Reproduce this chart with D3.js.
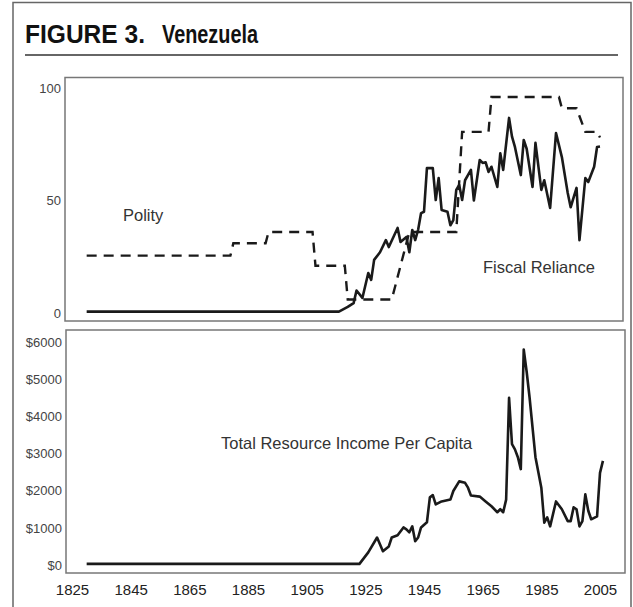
<!DOCTYPE html>
<html>
<head>
<meta charset="utf-8">
<script src="https://cdn.jsdelivr.net/npm/d3@7/dist/d3.min.js"></script>
<style>
  body { margin: 0; background: #fff; }
  text { font-family: "Liberation Sans", Arial, Helvetica, sans-serif; }
</style>
</head>
<body>
<div class="chart"></div>
<script>
// Width and height
var w = 633;
var h = 607;

// Polity (rescaled 0-100), dashed
const polityYears  = [1830, 1879, 1880, 1891, 1892, 1907, 1908, 1918, 1919, 1934, 1940, 1956, 1958, 1967, 1968, 1991, 1992, 1997, 2000, 2004, 2005];
const polityValues = [25.5, 25.5, 31,   31,   36,   36,   21,   21,   6,    6,    36,   36,   80.5, 80.5, 96,   96,   91,   91,   80.5, 80.5, 78];

// Fiscal reliance, solid
const fiscalYears  = [1830, 1916, 1919, 1921, 1922, 1924, 1926, 1927, 1928, 1930, 1932, 1933, 1936, 1937, 1939, 1940,
                      1941, 1942, 1943, 1944, 1945, 1946, 1948, 1949, 1950, 1951, 1953, 1954, 1955, 1956, 1957, 1958,
                      1959, 1961, 1962, 1964, 1965, 1966, 1967, 1968, 1970, 1971, 1972, 1974, 1975, 1976, 1978, 1979,
                      1980, 1982, 1983, 1985, 1986, 1988, 1990, 1992, 1994, 1995, 1997, 1998, 2000, 2001, 2003, 2004, 2005];
const fiscalValues = [0.6,  0.6,  2.7,  4.4,  10,   6.7,  17.8, 14.7, 23.6, 27,   32.4, 29.3, 37.8, 31.6, 33.8, 27,
                      36.9, 32.4, 37,   44.4, 45,   64.4, 64.4, 50.2, 60,   45.8, 45,   39,   41.3, 54.7, 56.9, 50.2,
                      59,   63.6, 50,   68,   66.7, 67,   62.7, 65,   56,   71,   63.6, 86.7, 78.4, 73.8, 61.3, 76.9,
                      73,   56,   75.6, 54.7, 59,   46.7, 80,   69.3, 53.3, 47,   55.6, 32.4, 60,   58.2, 65,   73.8, 74];

// Total resource income per capita (US$)
const incomeYears  = [1830, 1923, 1926, 1929, 1931, 1933, 1934, 1936, 1938, 1939, 1940, 1941, 1942, 1943, 1944, 1946,
                      1947, 1948, 1949, 1951, 1954, 1955, 1957, 1959, 1960, 1961, 1964, 1966, 1968, 1970, 1971, 1972,
                      1973, 1974, 1975, 1976, 1977, 1978, 1979, 1980, 1981, 1983, 1985, 1986, 1987, 1988, 1990, 1992,
                      1994, 1995, 1996, 1997, 1998, 1999, 2000, 2001, 2002, 2004, 2005, 2006];
const incomeValues = [30,   30,   340,  740,  370,  500,  740,  800,  1010, 960,  880,  1040, 640,  740,  1010, 1150,
                      1820, 1880, 1630, 1710, 1760, 1990, 2250, 2210, 2080, 1870, 1840, 1710, 1580, 1420, 1500, 1420,
                      1760, 4500, 3250, 3110, 2900, 2580, 5800, 5200, 4500, 2900, 2080, 1140, 1280, 1040, 1710, 1500,
                      1180, 1180, 1550, 1500, 1040, 1180, 1900, 1460, 1230, 1310, 2480, 2800];

const xTicks = [1825, 1845, 1865, 1885, 1905, 1925, 1945, 1965, 1985, 2005];
const topTicks = [0, 50, 100];
const bottomTicks = [0, 1000, 2000, 3000, 4000, 5000, 6000];

// Create SVG element
var svg = d3.select("body")
  .select(".chart")
  .append("svg")
  .attr("width", w)
  .attr("height", h);

// outer frame and title
svg.append("path")
  .attr("d", "M13,607 L13,2.5 L631,2.5 L631,607")
  .attr("fill", "none")
  .attr("stroke", "#666")
  .attr("stroke-width", 1.5);

svg.append("text")
  .attr("x", 25).attr("y", 43)
  .attr("font-size", 25).attr("font-weight", "bold")
  .attr("textLength", 120).attr("lengthAdjust", "spacingAndGlyphs")
  .attr("fill", "#111")
  .text("FIGURE 3.");
svg.append("text")
  .attr("x", 162).attr("y", 43)
  .attr("font-size", 25).attr("font-weight", "bold")
  .attr("textLength", 96).attr("lengthAdjust", "spacingAndGlyphs")
  .attr("fill", "#111")
  .text("Venezuela");

svg.append("line")
  .attr("x1", 25).attr("x2", 618)
  .attr("y1", 55).attr("y2", 55)
  .attr("stroke", "#333")
  .attr("stroke-width", 1.5);

// scales
const x = d3.scaleLinear().domain([1825, 2005]).range([72, 600]);
const yTop = d3.scaleLinear().domain([0, 100]).range([313, 88]);
const yBot = d3.scaleLinear().domain([0, 6000]).range([565, 342]);

// panel boxes
svg.append("rect")
  .attr("x", 65).attr("y", 77.5).attr("width", 558).attr("height", 243.5)
  .attr("fill", "none").attr("stroke", "#777").attr("stroke-width", 1.5);
svg.append("rect")
  .attr("x", 66).attr("y", 330).attr("width", 559).attr("height", 243)
  .attr("fill", "none").attr("stroke", "#777").attr("stroke-width", 1.5);

// y axes
svg.append("g")
  .attr("transform", "translate(62,0)")
  .call(d3.axisLeft(yTop).tickValues(topTicks).tickSize(0).tickPadding(1))
  .call(g => g.select(".domain").remove())
  .selectAll("text")
  .attr("font-size", 13)
  .attr("fill", "#444")
  .style("font-family", "'Liberation Sans', Arial, sans-serif");

svg.append("g")
  .attr("transform", "translate(63,0)")
  .call(d3.axisLeft(yBot).tickValues(bottomTicks).tickSize(0).tickPadding(1).tickFormat(d => "$" + d))
  .call(g => g.select(".domain").remove())
  .selectAll("text")
  .attr("font-size", 13)
  .attr("fill", "#444")
  .style("font-family", "'Liberation Sans', Arial, sans-serif");

// x axis
svg.append("g")
  .attr("transform", "translate(0,578)")
  .call(d3.axisBottom(x).tickValues(xTicks).tickSize(0).tickPadding(6).tickFormat(d3.format("d")))
  .call(g => g.select(".domain").remove())
  .selectAll("text")
  .attr("font-size", 15)
  .attr("fill", "#222")
  .style("font-family", "'Liberation Sans', Arial, sans-serif");

// lines
const topLine = d3.line().x(d => x(d[0])).y(d => yTop(d[1]));
const botLine = d3.line().x(d => x(d[0])).y(d => yBot(d[1]));

svg.append("path")
  .datum(d3.zip(polityYears, polityValues))
  .attr("fill", "none")
  .attr("stroke", "#1a1a1a")
  .attr("stroke-width", 2.4)
  .attr("stroke-dasharray", "10,7")
  .attr("d", topLine);

svg.append("path")
  .datum(d3.zip(fiscalYears, fiscalValues))
  .attr("fill", "none")
  .attr("stroke", "#1a1a1a")
  .attr("stroke-width", 2.6)
  .attr("stroke-linejoin", "round")
  .attr("d", topLine);

svg.append("path")
  .datum(d3.zip(incomeYears, incomeValues))
  .attr("fill", "none")
  .attr("stroke", "#1a1a1a")
  .attr("stroke-width", 2.6)
  .attr("stroke-linejoin", "round")
  .attr("d", botLine);

// series labels
const labels = [
  { t: "Polity", x: 123, y: 221 },
  { t: "Fiscal Reliance", x: 483, y: 273 },
  { t: "Total Resource Income Per Capita", x: 221, y: 449 }
];
svg.selectAll("text.lbl")
  .data(labels)
  .enter()
  .append("text")
  .attr("class", "lbl")
  .attr("x", d => d.x)
  .attr("y", d => d.y)
  .attr("font-size", 16.5)
  .attr("fill", "#333")
  .text(d => d.t);
</script>
</body>
</html>
